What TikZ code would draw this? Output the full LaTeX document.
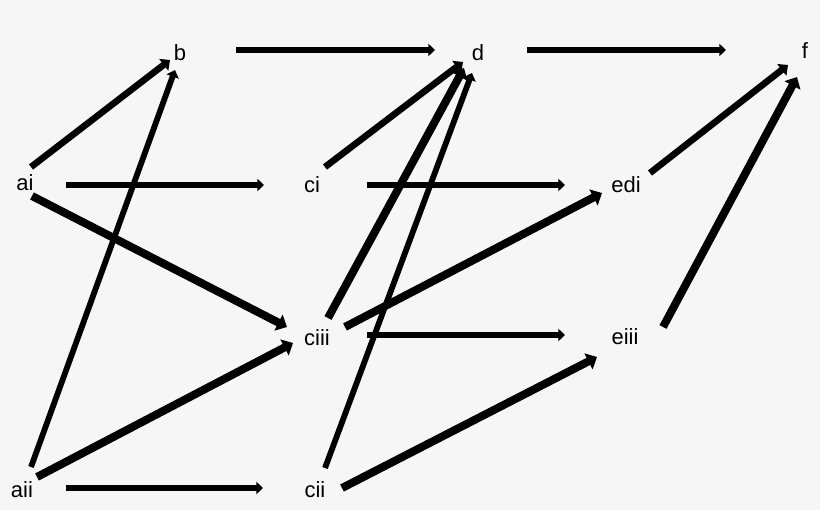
\documentclass[tikz,border=0pt]{standalone}
\usepackage{fontspec}
\setmainfont{Liberation Sans}
\usetikzlibrary{arrows.meta}
\definecolor{bggray}{HTML}{F6F6F6}

\begin{document}
\begin{tikzpicture}[x=1pt,y=-1pt]
\tikzstyle{lbl}=[inner sep=0pt,text height=15.5pt,text depth=0pt,font=\fontsize{22}{25}\selectfont]
\tikzstyle{arr}=[draw=black,-{Triangle[length=0pt 1.2,width=0pt 2.2]}]
\tikzstyle{flow}=[arr,line width=5.6pt]
\tikzstyle{lnk}=[arr,line width=6.6pt]
\tikzstyle{lnkthin}=[arr,line width=5.8pt]
\tikzstyle{lnkthick}=[arr,line width=8pt]

\fill[bggray] (0,0) rectangle (820,510);
\useasboundingbox (0,0) rectangle (820,510);

%labels
\node[lbl] (b) at (180,53) {b};
\node[lbl] (d) at (478,53) {d};
\node[lbl] (f) at (805,51) {f};
\node[lbl] (ai) at (25,183) {ai};
\node[lbl] (ci) at (312,185) {ci};
\node[lbl] (edi) at (626,185) {edi};
\node[lbl] (ciii) at (317,338) {ciii};
\node[lbl] (eiii) at (625,337) {eiii};
\node[lbl] (aii) at (22,490) {aii};
\node[lbl] (cii) at (315,490) {cii};

%straight arrows along the rows
\draw[flow] ([shift={(56,-3)}]b.center) -- ([shift={(-43,-3)}]d.center);
\draw[flow] ([shift={(49,-3)}]d.center) -- ([shift={(-79,-1)}]f.center);
\draw[flow] ([shift={(41,2)}]ai.center) -- ([shift={(-48,0)}]ci.center);
\draw[flow] ([shift={(55,0)}]ci.center) -- ([shift={(-61,0)}]edi.center);
\draw[flow] ([shift={(50,-3)}]ciii.center) -- ([shift={(-60,-2)}]eiii.center);
\draw[flow] ([shift={(44,-2)}]aii.center) -- ([shift={(-52,-2)}]cii.center);

%slanted arrows
\draw[lnk] ([shift={(6,-16)}]ai.center) -- ([shift={(-10,7)}]b.center);
\draw[lnkthick] ([shift={(7,13)}]ai.center) -- ([shift={(-30,-11)}]ciii.center);
\draw[lnk] ([shift={(13,-18)}]ci.center) -- ([shift={(-15,9)}]d.center);
\draw[lnk] ([shift={(24,-12)}]edi.center) -- ([shift={(-17,14)}]f.center);
\draw[lnkthick] ([shift={(11,-20)}]ciii.center) -- ([shift={(-14,15)}]d.center);
\draw[lnkthick] ([shift={(28,-11)}]ciii.center) -- ([shift={(-24,8)}]edi.center);
\draw[lnkthick] ([shift={(38,-10)}]eiii.center) -- ([shift={(-8,26)}]f.center);
\draw[lnkthin] ([shift={(9,-23)}]aii.center) -- ([shift={(-5,17)}]b.center);
\draw[lnkthick] ([shift={(15,-13)}]aii.center) -- ([shift={(-24,5)}]ciii.center);
\draw[lnkthin] ([shift={(10,-22)}]cii.center) -- ([shift={(-6,20)}]d.center);
\draw[lnkthick] ([shift={(27,-2)}]cii.center) -- ([shift={(-28,20)}]eiii.center);
\end{tikzpicture}
\end{document}
